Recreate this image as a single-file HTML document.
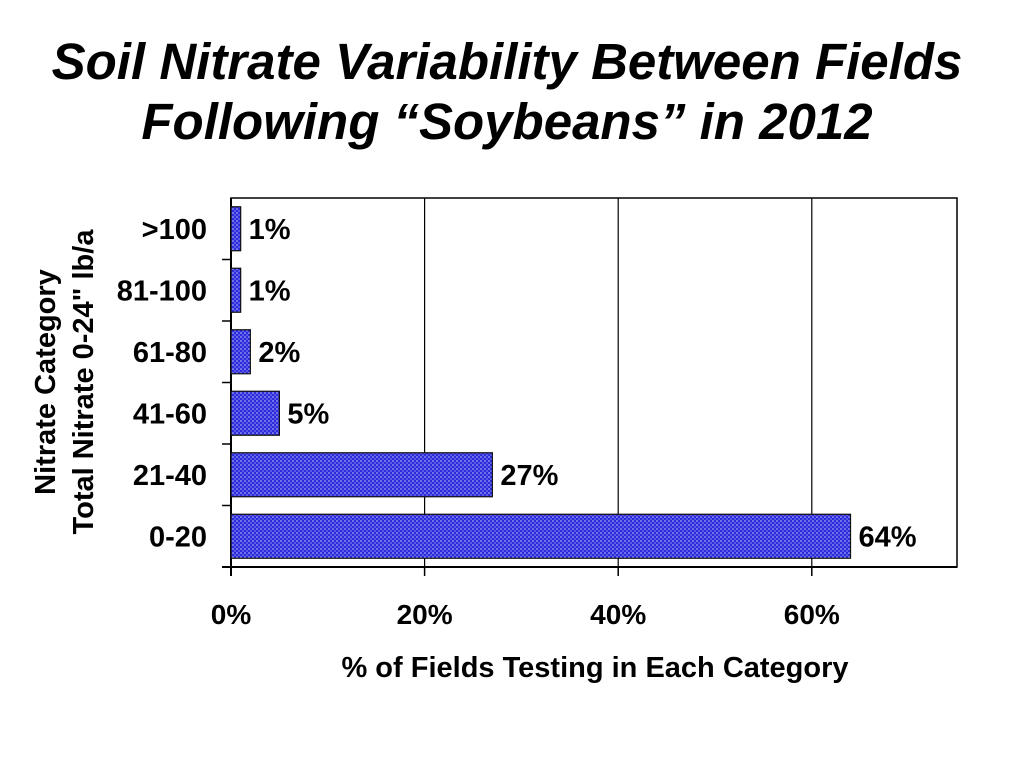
<!DOCTYPE html>
<html><head><meta charset="utf-8"><style>
body{margin:0;background:#fff;}
svg text{font-family:"Liberation Sans",Arial,sans-serif;}
</style></head><body>
<svg width="1024" height="768" xmlns="http://www.w3.org/2000/svg">
<defs>
<pattern id="dots" width="4" height="4" patternUnits="userSpaceOnUse">
<rect width="4" height="4" fill="#2b2bdc"/>
<circle cx="1" cy="1" r="0.8" fill="#c8c8ff"/>
<circle cx="3" cy="3" r="0.8" fill="#8f8ff5"/>
</pattern>
</defs>
<text x="507" y="79" text-anchor="middle" font-size="51" font-weight="bold" font-style="italic">Soil Nitrate Variability Between Fields</text>
<text x="507" y="139" text-anchor="middle" font-size="51" font-weight="bold" font-style="italic">Following “Soybeans” in 2012</text>
<g id="plot"></g>
<text x="595" y="677" text-anchor="middle" font-size="29" font-weight="bold">% of Fields Testing in Each Category</text>
<text transform="translate(55,382) rotate(-90)" text-anchor="middle" font-size="29" font-weight="bold">Nitrate Category</text>
<text transform="translate(93,382) rotate(-90)" text-anchor="middle" font-size="29" font-weight="bold">Total Nitrate 0-24" lb/a</text>
</svg>
<script>
const categories=[">100","81-100","61-80","41-60","21-40","0-20"];
const values=[1,1,2,5,27,64];
const xTicks=[0,20,40,60];
const x0=231,x1=957,y0=198,y1=567,xMax=75;
const ns="http://www.w3.org/2000/svg";
const g=document.getElementById("plot");
function xs(v){return x0+(x1-x0)*v/xMax;}
const band=(y1-y0)/categories.length;
function mk(t,a){const e=document.createElementNS(ns,t);for(const k in a)e.setAttribute(k,a[k]);g.appendChild(e);return e;}
let e=mk("rect",{x:x0,y:y0,width:x1-x0,height:y1-y0,fill:"none",stroke:"#000","stroke-width":1.5});


xTicks.forEach(t=>{
 if(t>0){let l=mk("line",{x1:xs(t),x2:xs(t),y1:y0,y2:y1,stroke:"#000","stroke-width":1.2});
 
 }
 let k=mk("line",{x1:xs(t),x2:xs(t),y1:y1,y2:y1+9,stroke:"#000","stroke-width":1.5});
 
 
 let tx=mk("text",{x:xs(t),y:624,"text-anchor":"middle","font-size":28,"font-weight":"bold"});
 tx.textContent=t+"%";
 
 
});
mk("line",{x1:x0,x2:x0,y1:y0,y2:y1+9,stroke:"#000","stroke-width":2});
mk("line",{x1:x0-9,x2:x1,y1:y1,y2:y1,stroke:"#000","stroke-width":2});
categories.forEach((c,i)=>{
 const yc=y0+band*i+band/2;
 let k=mk("line",{x1:x0-9,x2:x0,y1:y0+band*(i+1),y2:y0+band*(i+1),stroke:"#000","stroke-width":1.5});
 
 
 let b=mk("rect",{x:x0,y:yc-22,width:xs(values[i])-x0,height:44,fill:"url(#dots)",stroke:"#111","stroke-width":1.2});
 
 
 let l=mk("text",{x:x0-24,y:yc+10,"text-anchor":"end","font-size":29,"font-weight":"bold"});
 l.textContent=c;
 
 
 let v=mk("text",{x:xs(values[i])+8,y:yc+10,"font-size":29,"font-weight":"bold"});
 v.textContent=values[i]+"%";
 
 
});
</script>
</body></html>
